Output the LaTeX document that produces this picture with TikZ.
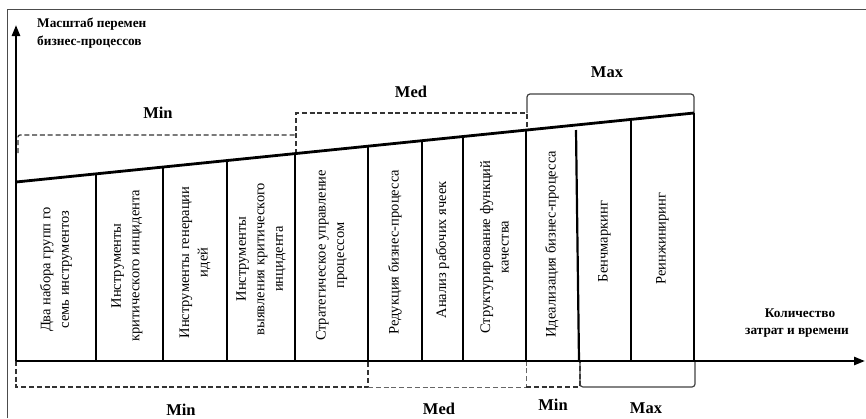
\documentclass[tikz,border=0pt]{standalone}
\usepackage{fontspec}
\setmainfont{Liberation Serif}
\usetikzlibrary{arrows.meta}
\begin{document}
\begin{tikzpicture}[x=1pt,y=-1pt,
  axis/.style={line width=2.4pt, -{Triangle[length=11pt,width=8pt]}},
  divider/.style={line width=2.2pt},
  slopeline/.style={line width=2.8pt},
  dbrace/.style={line width=1.3pt, dash pattern=on 5pt off 2.8pt, draw=black!80},
  lbrace/.style={line width=1pt, dash pattern=on 5pt off 2.8pt, draw=black!60},
  sbrace/.style={line width=1.2pt, draw=black!75, rounded corners=3pt},
  coltext/.style={rotate=90, align=center, font=\fontsize{14.5}{18.5}\selectfont, inner sep=0pt},
  level/.style={font=\fontsize{16.5}{18}\selectfont\bfseries, inner sep=0pt},
  axlabel/.style={font=\fontsize{13.3}{17}\selectfont\bfseries, inner sep=0pt}]
\useasboundingbox (0,0) rectangle (866,418);
% frame
\draw[line width=0.8pt, black!70] (7,418) -- (7,9) -- (866,9);
% top brackets
\draw[dbrace, rounded corners=2pt] (18,153) -- (18,135) -- (296,135);
\draw[dbrace] (296,154) -- (296,113) -- (527,113) -- (527,130);
\draw[sbrace] (527,113) -- (527,94) -- (694,94) -- (694,113);
\node[level] (tmin) at (158,113) {Min};
\node[level] (tmed) at (411,92) {Med};
\node[level] (tmax) at (607,72) {Max};
% bottom brackets
\draw[dbrace] (16,361) -- (16,387) -- (368,387) -- (368,361);
\draw[lbrace] (368,387) -- (526,387) -- (526,361);
\draw[dbrace] (526,387) -- (580,387) -- (580,361);
\draw[sbrace] (580,361) -- (580,387) -- (695,387) -- (695,361);
\node[level] (bmin) at (181,409.5) {Min};
\node[level] (bmed) at (439,409) {Med};
\node[level] (bmin2) at (553,405) {Min};
\node[level] (bmax) at (646,408.5) {Max};
% dividers
\foreach \x in {96,163,227,295,368,422,463,526,631,694}
  \draw[divider] (\x,{182-0.10177*(\x-16)}) -- (\x,361);
\draw[divider] (576,130) -- (579,361);
% slope line
\draw[slopeline] (16,182) -- (694,113);
% column texts
\foreach \cx/\txt [count=\i] in {
  56/{Два набора групп го\\семь инструментоз},
  127/{Инструменты\\критического инцидента},
  195/{Инструменты генерации\\идей},
  261/{Инструменты\\выявления критического\\инцидента},
  331.5/{Стратегическое управление\\процессом},
  395/{Редукция бизнес-процесса},
  442.5/{Анализ рабочих ячеек},
  494.5/{Структурирование функций\\качества},
  552/{Идеализация бизнес-процесса},
  604.5/{Бенчмаркинг},
  662.5/{Реинжиниринг}}
  \node[coltext] (c\i) at (\cx,{(182-0.10177*(\cx-16)+361)/2}) {\txt};
% axes
\draw[axis] (16,361) -- (16,25);
\draw[axis] (16,361) -- (865,361);
\node[axlabel, anchor=base west] (yl1) at (37,27) {Масштаб перемен};
\node[axlabel, anchor=base west] (yl2) at (37,45) {бизнес-процессов};
\node[axlabel, anchor=base] (xl1) at (800,317) {Количество};
\node[axlabel, anchor=base] (xl2) at (797,334) {затрат и времени};
\end{tikzpicture}
\end{document}
